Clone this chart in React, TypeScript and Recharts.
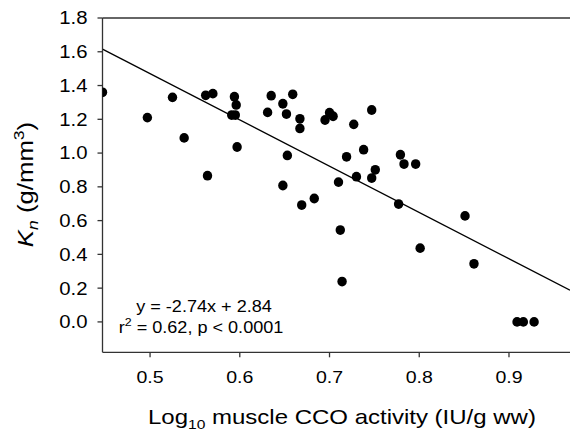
import React from 'react';
import { ScatterChart, Scatter, XAxis, YAxis, ReferenceLine, Customized } from 'recharts';

const xValues = [0.447, 0.497, 0.525, 0.538, 0.562, 0.570, 0.564, 0.594, 0.596, 0.591, 0.595, 0.597, 0.631, 0.635, 0.648, 0.652, 0.653, 0.648, 0.659, 0.667, 0.667, 0.700, 0.704, 0.695, 0.727, 0.747, 0.669, 0.683, 0.710, 0.719, 0.738, 0.730, 0.747, 0.751, 0.779, 0.783, 0.796, 0.777, 0.712, 0.714, 0.851, 0.801, 0.861, 0.909, 0.916, 0.928];
const yValues = [1.36, 1.21, 1.33, 1.09, 1.342, 1.352, 0.866, 1.334, 1.285, 1.225, 1.225, 1.036, 1.241, 1.340, 1.292, 1.231, 0.986, 0.808, 1.348, 1.203, 1.146, 1.239, 1.218, 1.196, 1.170, 1.255, 0.692, 0.731, 0.828, 0.978, 1.020, 0.860, 0.852, 0.901, 0.990, 0.935, 0.935, 0.698, 0.544, 0.239, 0.628, 0.437, 0.344, 0.0, 0.0, 0.0];

const xTicks = [0.5, 0.6, 0.7, 0.8, 0.9];
const yTicks = [0.0, 0.2, 0.4, 0.6, 0.8, 1.0, 1.2, 1.4, 1.6, 1.8];
const xDomain: [number, number] = [0.447, 0.968];
const yDomain: [number, number] = [-0.18, 1.8];
const slope = -2.74;
const intercept = 2.84;

const points = xValues.map((x, i) => ({ x, y: yValues[i] }));

const FONT = '"Liberation Sans", Arial, sans-serif';
const AXIS = '#333';

const Dot = (props: any) => <ellipse cx={props.cx} cy={props.cy} rx={4.7} ry={4.9} fill="#000" />;

const YTick = (props: any) => (
  <g transform={`translate(${props.x},${props.y})`}>
    <text transform="scale(1.13,1)" textAnchor="end" dy="0.355em" fontFamily={FONT} fontSize={18} fill="#000">
      {Number(props.payload.value).toFixed(1)}
    </text>
  </g>
);

const XTick = (props: any) => (
  <g transform={`translate(${props.x},${props.y})`}>
    <text transform="scale(1.15,1)" textAnchor="middle" dy="0.71em" fontFamily={FONT} fontSize={17} fill="#000">
      {Number(props.payload.value).toFixed(1)}
    </text>
  </g>
);

const YLabel = () => (
  <g transform="translate(33,184.5) rotate(-90) scale(1.17,1)">
    <text x={0} y={0} textAnchor="middle" fontFamily={FONT} fontSize={22} fill="#000">
      <tspan fontStyle="italic">K</tspan>
      <tspan fontSize={15} dy={5} fontStyle="italic">n</tspan>
      <tspan dy={-5}> (g/mm</tspan>
      <tspan fontSize={15} dy={-9}>3</tspan>
      <tspan dy={9}>)</tspan>
    </text>
  </g>
);

const XLabel = () => (
  <g transform="translate(148,424.3) scale(1.2,1)">
    <text x={0} y={0} textAnchor="start" fontFamily={FONT} fontSize={20} fill="#000">
      <tspan>Log</tspan>
      <tspan fontSize={13} dy={5}>10</tspan>
      <tspan dy={-5}> muscle CCO activity (IU/g ww)</tspan>
    </text>
  </g>
);

const Annotation = () => (
  <g fontFamily={FONT} fontSize={16} fill="#000">
    <g transform="translate(204,311.7) scale(1.13,1)">
      <text x={0} y={0} textAnchor="middle">y = -2.74x + 2.84</text>
    </g>
    <g transform="translate(201,333.3) scale(1.13,1)">
      <text x={0} y={0} textAnchor="middle">
        <tspan>r</tspan>
        <tspan fontSize={11} dy={-7}>2</tspan>
        <tspan dy={7}> = 0.62, p &lt; 0.0001</tspan>
      </text>
    </g>
  </g>
);

export default function App() {
  return (
    <div style={{ position: 'absolute', left: 0, top: 0, background: '#fff' }}>
      <ScatterChart width={570} height={434} margin={{ top: 18, right: 0, left: 0.5, bottom: 21.7 }}>
        <XAxis
          type="number"
          dataKey="x"
          domain={xDomain}
          ticks={xTicks}
          allowDataOverflow
          height={60}
          tickSize={5}
          tickMargin={14}
          axisLine={{ stroke: AXIS, strokeWidth: 1.3 }}
          tickLine={{ stroke: AXIS, strokeWidth: 1.3 }}
          tick={XTick}
        />
        <YAxis
          type="number"
          dataKey="y"
          domain={yDomain}
          ticks={yTicks}
          allowDataOverflow
          width={102}
          tickSize={5}
          tickMargin={10}
          axisLine={{ stroke: AXIS, strokeWidth: 1.3 }}
          tickLine={{ stroke: AXIS, strokeWidth: 1.3 }}
          tick={YTick}
        />
        <ReferenceLine y={1.8} stroke={AXIS} strokeWidth={1.5} ifOverflow="visible" />
        <ReferenceLine
          segment={[
            { x: xDomain[0], y: slope * xDomain[0] + intercept },
            { x: xDomain[1], y: slope * xDomain[1] + intercept },
          ]}
          stroke="#000"
          strokeWidth={1.3}
          ifOverflow="visible"
        />
        <Scatter data={points} shape={Dot} isAnimationActive={false} />
        <Customized component={YLabel} />
        <Customized component={XLabel} />
        <Customized component={Annotation} />
      </ScatterChart>
    </div>
  );
}
